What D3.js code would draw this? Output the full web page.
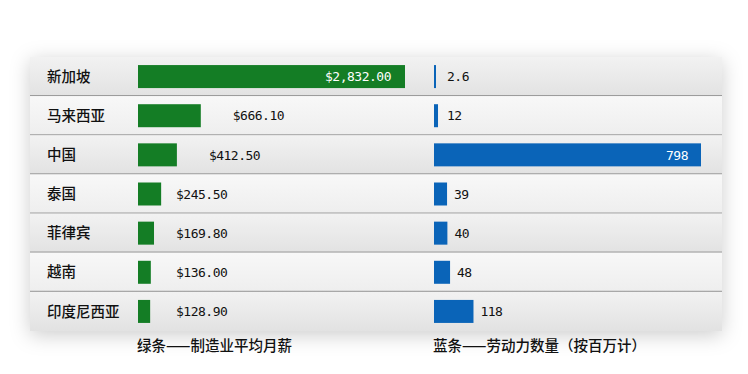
<!DOCTYPE html>
<html>
<head>
<meta charset="utf-8">
<script src="https://cdn.jsdelivr.net/npm/d3@7"></script>
<style>
  html, body { margin: 0; padding: 0; background: #ffffff; }
  svg { display: block; }
</style>
</head>
<body>
<script>
// data
const countries = ["新加坡", "马来西亚", "中国", "泰国", "菲律宾", "越南", "印度尼西亚"];
const wages = [2832.00, 666.10, 412.50, 245.50, 169.80, 136.00, 128.90];
const labour = [2.6, 12, 798, 39, 40, 48, 118];
const captions = ["绿条——制造业平均月薪", "蓝条——劳动力数量（按百万计）"];

const width = 748, height = 374;
const cjk = "'Noto Sans CJK SC', 'Noto Sans', sans-serif";
const mono = "'DejaVu Sans Mono', 'Liberation Mono', monospace";

const svg = d3.select("body").append("svg")
  .attr("width", width)
  .attr("height", height);

const defs = svg.append("defs");
const shadow = defs.append("filter").attr("id", "shadow")
  .attr("x", "-10%").attr("y", "-20%").attr("width", "120%").attr("height", "140%");
shadow.append("feDropShadow")
  .attr("dx", 0).attr("dy", 4).attr("stdDeviation", 10)
  .attr("flood-color", "#000").attr("flood-opacity", 0.2);

const gradDark = defs.append("linearGradient").attr("id", "rowDark")
  .attr("x1", 0).attr("y1", 0).attr("x2", 0).attr("y2", 1);
gradDark.append("stop").attr("offset", "0%").attr("stop-color", "#f2f2f2");
gradDark.append("stop").attr("offset", "100%").attr("stop-color", "#e2e2e2");

const gradLight = defs.append("linearGradient").attr("id", "rowLight")
  .attr("x1", 0).attr("y1", 0).attr("x2", 0).attr("y2", 1);
gradLight.append("stop").attr("offset", "0%").attr("stop-color", "#f8f8f8");
gradLight.append("stop").attr("offset", "100%").attr("stop-color", "#eeeeee");

const panel = { left: 30, right: 722, top: 57, bottom: 331 };

const y = d3.scaleBand()
  .domain(countries)
  .range([panel.top, panel.bottom])
  .padding(0);

const xWage = d3.scaleLinear()
  .domain([0, d3.max(wages)])
  .range([138, 405]);

const xLab = d3.scaleLinear()
  .domain([0, d3.max(labour)])
  .range([434, 701]);

const rows = countries.map((c, i) => ({ country: c, wage: wages[i], lab: labour[i], i }));

// panel with shadow
svg.append("rect")
  .attr("x", panel.left).attr("y", panel.top)
  .attr("width", panel.right - panel.left)
  .attr("height", panel.bottom - panel.top)
  .attr("fill", "#eeeeee")
  .attr("filter", "url(#shadow)");

const row = svg.selectAll("g.row")
  .data(rows)
  .enter()
  .append("g")
    .attr("class", "row")
    .attr("transform", d => `translate(0,${y(d.country)})`);

row.append("rect")
  .attr("x", panel.left)
  .attr("width", panel.right - panel.left)
  .attr("height", y.bandwidth())
  .attr("fill", d => d.i % 2 === 0 ? "url(#rowDark)" : "url(#rowLight)");

row.filter(d => d.i < countries.length - 1)
  .append("line")
    .attr("x1", panel.left).attr("x2", panel.right)
    .attr("y1", y.bandwidth() - 0.5).attr("y2", y.bandwidth() - 0.5)
    .attr("stroke", "#9c9c9c")
    .attr("stroke-width", 1.2);

const mid = y.bandwidth() / 2;
const barH = 23;

row.append("text")
  .attr("x", 47)
  .attr("y", mid)
  .attr("dy", "0.36em")
  .attr("font-family", cjk)
  .attr("font-weight", 500)
  .attr("font-size", 14.5)
  .attr("fill", "#111111")
  .text(d => d.country);

// green bars: wages
row.append("rect")
  .attr("x", xWage(0))
  .attr("y", mid - barH / 2)
  .attr("width", d => xWage(d.wage) - xWage(0))
  .attr("height", barH)
  .attr("fill", "#147d25");

const fmtWage = d3.format("$,.2f");
const inside = (scale, v) => scale(v) - scale(0) > 150;

row.append("text")
  .attr("x", d => {
    const end = xWage(d.wage);
    if (inside(xWage, d.wage)) return end - 14;
    return end > 170 ? end + 32 : 176;
  })
  .attr("y", mid)
  .attr("dy", "0.36em")
  .attr("text-anchor", d => inside(xWage, d.wage) ? "end" : "start")
  .attr("font-family", mono)
  .attr("font-size", 13)
  .attr("letter-spacing", -0.5)
  .attr("fill", d => inside(xWage, d.wage) ? "#ffffff" : "#111111")
  .text(d => fmtWage(d.wage));

// blue bars: labour force
row.append("rect")
  .attr("x", xLab(0))
  .attr("y", mid - barH / 2)
  .attr("width", d => Math.max(2, xLab(d.lab) - xLab(0)))
  .attr("height", barH)
  .attr("fill", "#0a64b8");

row.append("text")
  .attr("x", d => {
    const end = xLab(d.lab);
    if (inside(xLab, d.lab)) return end - 13;
    return Math.max(end + 7, 447);
  })
  .attr("y", mid)
  .attr("dy", "0.36em")
  .attr("text-anchor", d => inside(xLab, d.lab) ? "end" : "start")
  .attr("font-family", mono)
  .attr("font-size", 13)
  .attr("letter-spacing", -0.5)
  .attr("fill", d => inside(xLab, d.lab) ? "#ffffff" : "#111111")
  .text(d => d.lab);

// captions under each column
svg.selectAll("text.caption")
  .data(captions)
  .enter()
  .append("text")
    .attr("class", "caption")
    .attr("x", (d, i) => i === 0 ? xWage(0) - 1 : xLab(0) - 1)
    .attr("y", 346)
    .attr("dy", "0.36em")
    .attr("font-family", cjk)
    .attr("font-weight", 500)
    .attr("font-size", 14.5)
    .attr("fill", "#111111")
    .text(d => d);
</script>
</body>
</html>
